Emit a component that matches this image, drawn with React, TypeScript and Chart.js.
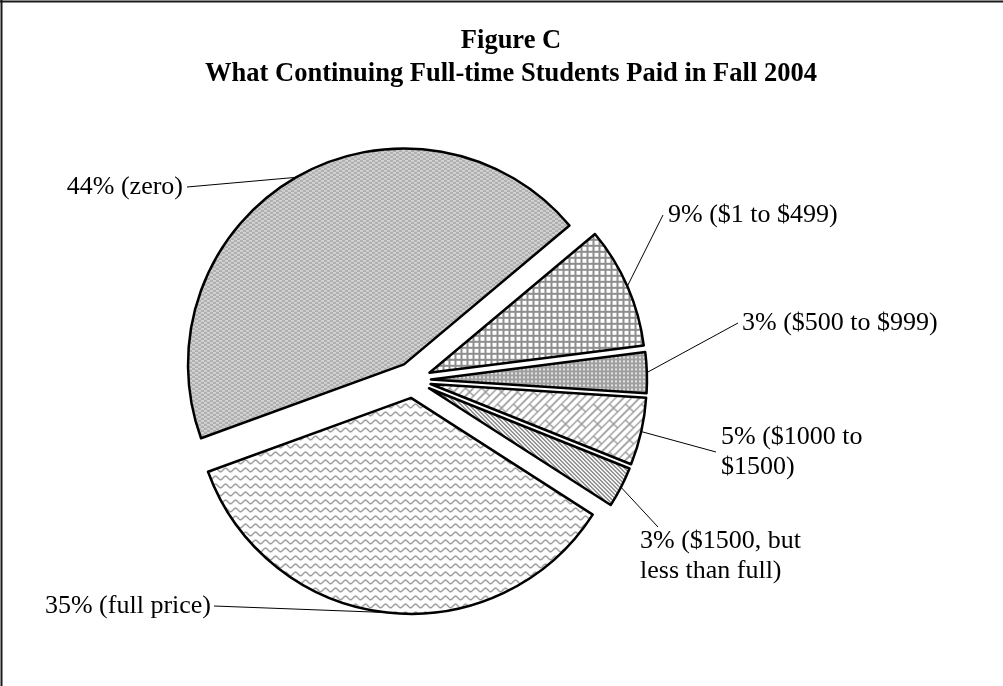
import React, { useEffect, useRef } from 'react';
import { Chart, registerables } from 'chart.js';

Chart.register(...registerables);

// ---------- data ----------
const categories = ['zero', '$1 to $499', '$500 to $999', '$1000 to $1500', '$1500, but less than full', 'full price'];
const percents = [44, 9, 3, 5, 3, 35];
const labelTexts = [
  ['44% (zero)'],
  ['9% ($1 to $499)'],
  ['3% ($500 to $999)'],
  ['5% ($1000 to', '$1500)'],
  ['3% ($1500, but', 'less than full)'],
  ['35% (full price)'],
];
const titleLines = ['Figure C', 'What Continuing Full-time Students Paid in Fall 2004'];
const patternKinds = ['dash', 'grid', 'dots', 'brick', 'stripes', 'wave'];

// ---------- layout ----------
const W = 1003;
const H = 686;
const EXPLODE = 18;
const RADIUS = 216;
const ROTATION = 250;
const LABEL_FONT = "26px 'Liberation Serif', 'Times New Roman', serif";
const TITLE_FONT = "bold 26.5px 'Liberation Serif', 'Times New Roman', serif";
const labelLayout = [
  { lx: 187, ly: 187, tx: 183, ty: [187], align: 'right' },
  { lx: 663, ly: 215, tx: 668, ty: [215], align: 'left' },
  { lx: 738, ly: 323, tx: 742, ty: [323], align: 'left' },
  { lx: 716, ly: 452, tx: 721, ty: [437, 467], align: 'left' },
  { lx: 658, ly: 527, tx: 640, ty: [541, 571], align: 'left' },
  { lx: 214, ly: 606, tx: 211, ty: [606], align: 'right' },
];

function makePattern(kind: string): CanvasPattern | string {
  const c = document.createElement('canvas');
  let ctx: CanvasRenderingContext2D;
  if (kind === 'dash') {
    c.width = 6; c.height = 4;
    ctx = c.getContext('2d')!;
    ctx.fillStyle = '#b0b0b0';
    ctx.fillRect(0, 0, 6, 4);
    ctx.fillStyle = '#efefef';
    ctx.fillRect(0, 0, 3, 1);
    ctx.fillRect(3, 2, 3, 1);
  } else if (kind === 'grid') {
    c.width = 6; c.height = 6;
    ctx = c.getContext('2d')!;
    ctx.fillStyle = '#ffffff';
    ctx.fillRect(0, 0, 6, 6);
    ctx.fillStyle = '#8e8e8e';
    ctx.fillRect(0, 0, 6, 2);
    ctx.fillRect(0, 0, 2, 6);
  } else if (kind === 'dots') {
    c.width = 4; c.height = 4;
    ctx = c.getContext('2d')!;
    ctx.fillStyle = '#a0a0a0';
    ctx.fillRect(0, 0, 4, 4);
    ctx.fillStyle = '#e2e2e2';
    ctx.fillRect(1, 1, 2, 2);
  } else if (kind === 'brick') {
    const S = 16;
    c.width = S; c.height = S;
    ctx = c.getContext('2d')!;
    ctx.fillStyle = '#ffffff';
    ctx.fillRect(0, 0, S, S);
    ctx.strokeStyle = '#9a9a9a';
    ctx.lineWidth = 1.3;
    for (let ox = -S; ox <= S; ox += S) {
      for (let oy = -S; oy <= S; oy += S) {
        ctx.beginPath();
        for (const k of [8, 16, 24]) {
          ctx.moveTo(ox + k - 16, oy + 16);
          ctx.lineTo(ox + k, oy);
        }
        ctx.moveTo(ox + 4, oy + 4); ctx.lineTo(ox + 8, oy + 8);
        ctx.moveTo(ox + 16, oy); ctx.lineTo(ox + 20, oy + 4);
        ctx.stroke();
      }
    }
  } else if (kind === 'stripes') {
    c.width = 4; c.height = 4;
    ctx = c.getContext('2d')!;
    ctx.fillStyle = '#ffffff';
    ctx.fillRect(0, 0, 4, 4);
    ctx.fillStyle = '#8a8a8a';
    for (let y = 0; y < 4; y++) {
      for (let x = 0; x < 4; x++) {
        if ((((x - y) % 4) + 4) % 4 < 2) ctx.fillRect(x, y, 1, 1);
      }
    }
  } else {
    c.width = 10; c.height = 8;
    ctx = c.getContext('2d')!;
    ctx.fillStyle = '#ffffff';
    ctx.fillRect(0, 0, 10, 8);
    ctx.strokeStyle = '#9a9a9a';
    ctx.lineWidth = 1.4;
    ctx.beginPath();
    for (let x = -1; x <= 11; x += 0.5) {
      const y = 4 + 1.8 * Math.sin((2 * Math.PI * x) / 10);
      if (x === -1) ctx.moveTo(x, y); else ctx.lineTo(x, y);
    }
    ctx.stroke();
  }
  const host = document.createElement('canvas').getContext('2d')!;
  return host.createPattern(c, 'repeat') || '#ccc';
}

const backgroundPlugin = {
  id: 'pageBackground',
  beforeDraw(chart: any) {
    const ctx = chart.ctx as CanvasRenderingContext2D;
    ctx.save();
    ctx.fillStyle = '#ffffff';
    ctx.fillRect(0, 0, chart.width, chart.height);
    ctx.strokeStyle = '#1a1a1a';
    ctx.lineWidth = 2;
    ctx.beginPath();
    ctx.moveTo(0, 1.5); ctx.lineTo(chart.width, 1.5);
    ctx.moveTo(1.5, 0); ctx.lineTo(1.5, chart.height);
    ctx.stroke();
    ctx.restore();
  },
};

const explodePlugin = {
  id: 'explodeSlices',
  beforeDatasetsDraw(chart: any) {
    const meta = chart.getDatasetMeta(0);
    meta.data.forEach((el: any) => {
      if (el.__exploded) return;
      const orig = el.draw.bind(el);
      el.draw = (ctx: CanvasRenderingContext2D, area: any) => {
        const mid = (el.startAngle + el.endAngle) / 2;
        ctx.save();
        ctx.translate(Math.cos(mid) * EXPLODE, Math.sin(mid) * EXPLODE);
        orig(ctx, area);
        ctx.restore();
      };
      el.__exploded = true;
    });
  },
};

const labelPlugin = {
  id: 'sliceLabels',
  afterDatasetsDraw(chart: any) {
    const ctx = chart.ctx as CanvasRenderingContext2D;
    const meta = chart.getDatasetMeta(0);
    ctx.save();
    ctx.strokeStyle = '#000';
    ctx.lineWidth = 1;
    ctx.fillStyle = '#000';
    ctx.font = LABEL_FONT;
    ctx.textBaseline = 'middle';
    meta.data.forEach((el: any, i: number) => {
      const mid = (el.startAngle + el.endAngle) / 2;
      const r = el.outerRadius + EXPLODE;
      const ax = el.x + Math.cos(mid) * r;
      const ay = el.y + Math.sin(mid) * r;
      const L = labelLayout[i];
      ctx.beginPath();
      ctx.moveTo(L.lx, L.ly);
      ctx.lineTo(ax, ay);
      ctx.stroke();
      ctx.textAlign = L.align as CanvasTextAlign;
      labelTexts[i].forEach((line, j) => ctx.fillText(line, L.tx, L.ty[j]));
    });
    ctx.font = TITLE_FONT;
    ctx.textAlign = 'center';
    ctx.fillText(titleLines[0], 511, 41);
    ctx.fillText(titleLines[1], 511, 74);
    ctx.restore();
  },
};

export default function App() {
  const ref = useRef<HTMLCanvasElement>(null);
  useEffect(() => {
    const canvas = ref.current!;
    const chart = new Chart(canvas, {
      type: 'pie',
      data: {
        labels: categories,
        datasets: [
          {
            data: percents,
            backgroundColor: patternKinds.map(makePattern) as any,
            borderColor: '#000',
            borderWidth: 2.5,
            borderJoinStyle: 'round',
          } as any,
        ],
      },
      options: {
        responsive: false,
        maintainAspectRatio: false,
        animation: false,
        events: [],
        rotation: ROTATION,
        radius: RADIUS,
        layout: { padding: { left: 0, right: 177, top: 74, bottom: 0 } },
        plugins: {
          legend: { display: false },
          tooltip: { enabled: false },
          title: { display: false },
        },
      } as any,
      plugins: [backgroundPlugin, explodePlugin, labelPlugin],
    });
    return () => chart.destroy();
  }, []);
  return (
    <div style={{ position: 'absolute', left: 0, top: 0, width: W, height: H }}>
      <canvas ref={ref} width={W} height={H} style={{ display: 'block', width: W, height: H }} />
    </div>
  );
}
